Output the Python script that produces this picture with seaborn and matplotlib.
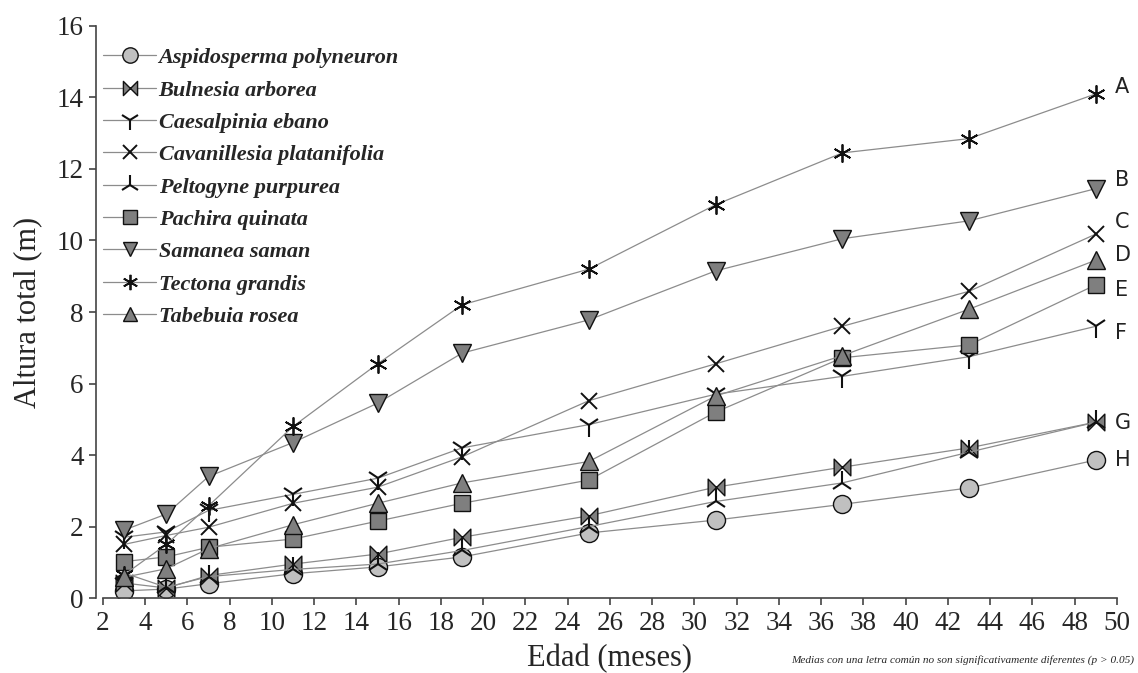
import matplotlib
matplotlib.use('Agg')
import matplotlib.pyplot as plt
import seaborn as sns
from matplotlib.path import Path

# ---------------- data ----------------
edad = [3, 5, 7, 11, 15, 19, 25, 31, 37, 43, 49]

especies = ['Aspidosperma polyneuron', 'Bulnesia arborea', 'Caesalpinia ebano',
            'Cavanillesia platanifolia', 'Peltogyne purpurea', 'Pachira quinata',
            'Samanea saman', 'Tectona grandis', 'Tabebuia rosea']

aspidosperma = [0.20, 0.25, 0.40, 0.68, 0.87, 1.15, 1.82, 2.18, 2.62, 3.08, 3.86]
bulnesia     = [0.42, 0.28, 0.63, 0.95, 1.23, 1.70, 2.30, 3.10, 3.66, 4.20, 4.92]
caesalpinia  = [1.70, 1.85, 2.45, 2.90, 3.35, 4.20, 4.85, 5.70, 6.20, 6.75, 7.60]
cavanillesia = [1.50, 1.75, 1.98, 2.65, 3.10, 3.95, 5.52, 6.55, 7.60, 8.58, 10.18]
peltogyne    = [0.70, 0.30, 0.60, 0.80, 0.95, 1.33, 2.00, 2.70, 3.22, 4.08, 4.92]
pachira      = [1.02, 1.15, 1.42, 1.65, 2.15, 2.65, 3.30, 5.20, 6.72, 7.08, 8.76]
samanea      = [1.90, 2.35, 3.40, 4.35, 5.45, 6.85, 7.78, 9.15, 10.05, 10.55, 11.45]
tectona      = [0.65, 1.50, 2.58, 4.80, 6.55, 8.20, 9.20, 11.00, 12.45, 12.85, 14.10]
tabebuia     = [0.58, 0.82, 1.38, 2.05, 2.65, 3.22, 3.82, 5.65, 6.78, 8.08, 9.45]

letras = ['A', 'B', 'C', 'D', 'E', 'F', 'G', 'H']
letras_y = [14.28, 11.69, 10.52, 9.59, 8.61, 7.41, 4.90, 3.86]

xticks = list(range(2, 51, 2))
yticks = list(range(0, 17, 2))

nota = 'Medias con una letra común no son significativamente diferentes (p > 0.05)'

# ---------------- style ----------------
sns.set_style('ticks')
plt.rcParams['font.family'] = ['Liberation Serif', 'DejaVu Serif']

bowtie = Path([(-1, -1), (-1, 1), (0, 0), (-1, -1),
               (1, -1), (1, 1), (0, 0), (1, -1)],
              [Path.MOVETO, Path.LINETO, Path.LINETO, Path.CLOSEPOLY,
               Path.MOVETO, Path.LINETO, Path.LINETO, Path.CLOSEPOLY])

series = [aspidosperma, bulnesia, caesalpinia, cavanillesia, peltogyne,
          pachira, samanea, tectona, tabebuia]
estilos = [
    dict(marker='o', markersize=13, markerfacecolor='#c0c0c0', markeredgewidth=1.0),
    dict(marker=bowtie, markersize=12, markerfacecolor='#7f7f7f', markeredgewidth=1.0),
    dict(marker='1', markersize=17, markeredgewidth=1.5),
    dict(marker='x', markersize=12, markeredgewidth=1.4),
    dict(marker='2', markersize=17, markeredgewidth=1.5),
    dict(marker='s', markersize=11.5, markerfacecolor='#7f7f7f', markeredgewidth=1.0),
    dict(marker='v', markersize=12.5, markerfacecolor='#7f7f7f', markeredgewidth=1.0),
    dict(marker=(6, 2, 0), markersize=13, markeredgewidth=1.3),
    dict(marker='^', markersize=12.5, markerfacecolor='#7f7f7f', markeredgewidth=1.0),
]

fig = plt.figure(figsize=(11.38, 6.73), dpi=100)
ax = fig.add_axes([0.0905, 0.1114, 0.891, 0.85])

for nombre, vals, st in zip(especies, series, estilos):
    sns.lineplot(x=edad, y=vals, ax=ax, color='#8c8c8c', linewidth=0.9,
                 markeredgecolor='#111111', label=nombre, sort=False, **st)

ax.set_xlim(2, 50)
ax.set_ylim(0, 16)
ax.set_xticks(xticks)
ax.set_yticks(yticks)
sns.despine(ax=ax, offset={'left': 5, 'bottom': 0})
for s in ['left', 'bottom']:
    ax.spines[s].set_color('#444444')
    ax.spines[s].set_linewidth(1.2)
ax.tick_params(axis='both', labelsize=19.5, direction='out', length=5,
               width=1.2, color='#444444', pad=4)

ax.set_xlabel('Edad (meses)', fontsize=22, labelpad=6)
ax.set_ylabel('Altura total (m)', fontsize=22, labelpad=10)

for l, y in zip(letras, letras_y):
    ax.text(49.9, y, l, fontsize=15, family='DejaVu Sans', color='#222222',
            ha='left', va='center', clip_on=False)

leg = ax.legend(loc='upper left', bbox_to_anchor=(0.0, 0.962), frameon=False,
                prop={'family': 'Liberation Serif', 'style': 'italic',
                      'weight': 'bold', 'size': 16},
                handlelength=2.4, handletextpad=0.1, labelspacing=0.53,
                borderaxespad=0, borderpad=0, markerscale=0.85)

fig.text(0.997, 0.019, nota, ha='right', va='center', fontsize=8.1,
         style='italic', family='Liberation Serif')

fig.savefig('out.png', dpi=100)
